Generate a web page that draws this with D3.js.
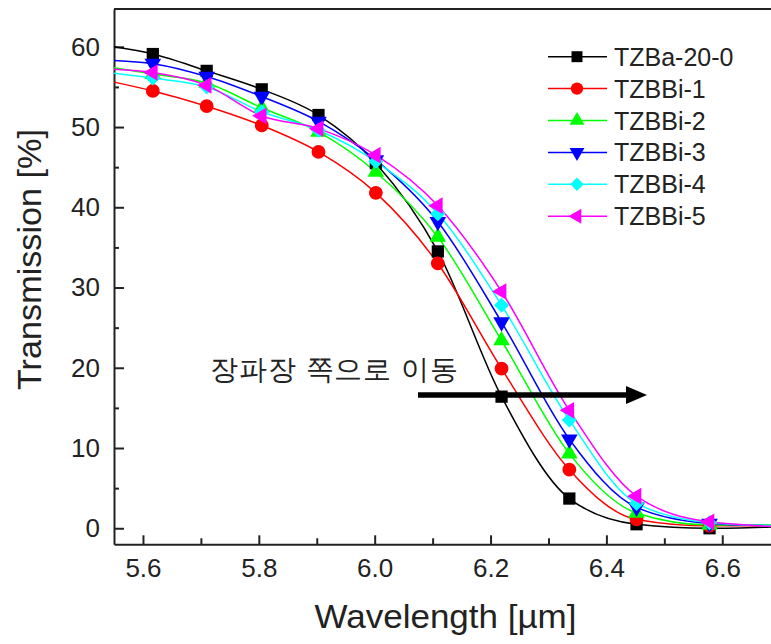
<!DOCTYPE html>
<html>
<head>
<meta charset="utf-8">
<script src="https://cdn.jsdelivr.net/npm/d3@7"></script>
<style>
  html, body { margin: 0; padding: 0; background: #fff; }
  svg { display: block; }
  text { font-family: "Liberation Sans", Arial, sans-serif; fill: #222; }
</style>
</head>
<body>
<svg id="chart" width="771" height="644"></svg>
<script>
// ---- data ----
const wavelengths = [5.617, 5.710, 5.805, 5.903, 6.002, 6.109, 6.219, 6.336, 6.452, 6.578];
const lineStartX = 5.55;
const lineEndX = 6.70;

const seriesNames = ["TZBa-20-0", "TZBBi-1", "TZBBi-2", "TZBBi-3", "TZBBi-4", "TZBBi-5"];
const valsTZBa20_0 = [59.1, 57.0, 54.7, 51.5, 45.5, 34.5, 16.4, 3.7, 0.5, 0.0];
const valsTZBBi1   = [54.5, 52.6, 50.2, 46.9, 41.8, 33.0, 19.9, 7.3, 1.1, 0.3];
const valsTZBBi2   = [56.6, 55.5, 52.4, 49.4, 44.4, 36.3, 23.4, 9.3, 1.9, 0.4];
const valsTZBBi3   = [57.9, 56.3, 53.8, 50.7, 45.9, 38.2, 25.7, 11.1, 2.6, 0.6];
const valsTZBBi4   = [56.1, 55.0, 51.9, 49.6, 45.7, 39.2, 27.8, 13.5, 3.1, 0.7];
const valsTZBBi5   = [56.8, 55.2, 51.4, 49.8, 46.5, 40.2, 29.5, 14.7, 4.0, 0.8];
const startVals = [60.0, 55.6, 57.4, 58.3, 56.7, 57.2];
const endVals   = [0.2, 0.3, 0.4, 0.3, 0.3, 0.2];

const xMajorTicks = [5.6, 5.8, 6.0, 6.2, 6.4, 6.6];
const xTickLabels = ["5.6", "5.8", "6.0", "6.2", "6.4", "6.6"];
const xMinorTicks = [5.7, 5.9, 6.1, 6.3, 6.5, 6.7];
const yMajorTicks = [0, 10, 20, 30, 40, 50, 60];
const yMinorTicks = [5, 15, 25, 35, 45, 55];

const xTitle = "Wavelength [\u00B5m]";
const yTitle = "Transmission [%]";
const annotation = "장파장 쪽으로 이동";

// ---- styles ----
const colors = ["#000000", "#ff0000", "#00ff00", "#0000ff", "#00ffff", "#ff00ff"];
const shapes = ["square", "circle", "triUp", "triDown", "diamond", "triLeft"];
const allVals = [valsTZBa20_0, valsTZBBi1, valsTZBBi2, valsTZBBi3, valsTZBBi4, valsTZBBi5];

const svg = d3.select("#chart");
const x = d3.scaleLinear().domain([5.55, 6.70]).range([114, 780.2]);
const y = d3.scaleLinear().domain([-2, 64.7]).range([544.3, 9.1]);

function symbolPath(shape, size) {
  switch (shape) {
    case "square": return {d: d3.symbol(d3.symbolSquare, size)(), rot: 0};
    case "circle": return {d: d3.symbol(d3.symbolCircle, size)(), rot: 0};
    case "triUp": return {d: d3.symbol(d3.symbolTriangle, size * 0.8)(), rot: 0};
    case "triDown": return {d: d3.symbol(d3.symbolTriangle, size * 0.8)(), rot: 180};
    case "diamond": return {d: d3.symbol(d3.symbolSquare, size * 0.75)(), rot: 45};
    case "triLeft": return {d: d3.symbol(d3.symbolTriangle, size * 0.8)(), rot: -90};
  }
}

// ---- axes ----
const axisColor = "#222";
svg.append("line").attr("x1", x(5.55)).attr("x2", x(6.70))
  .attr("y1", y(64.7)).attr("y2", y(64.7))
  .attr("stroke", axisColor).attr("stroke-width", 2);

svg.append("g").attr("transform", `translate(${x(5.55)},0)`)
  .call(d3.axisLeft(y).tickValues(yMajorTicks).tickFormat(d3.format("d"))
    .tickSizeInner(-10).tickSizeOuter(0).tickPadding(14));
svg.append("g").attr("transform", `translate(${x(5.55)},0)`)
  .call(d3.axisLeft(y).tickValues(yMinorTicks).tickFormat("")
    .tickSizeInner(-5).tickSizeOuter(0))
  .select(".domain").remove();

svg.append("g").attr("transform", `translate(0,${y(-2)})`)
  .call(d3.axisBottom(x).tickValues(xMajorTicks).tickFormat((d, i) => xTickLabels[i])
    .tickSizeInner(-9).tickSizeOuter(0).tickPadding(14));
svg.append("g").attr("transform", `translate(0,${y(-2)})`)
  .call(d3.axisBottom(x).tickValues(xMinorTicks).tickFormat("")
    .tickSizeInner(-6).tickSizeOuter(0))
  .select(".domain").remove();

svg.selectAll(".domain").attr("stroke", axisColor).attr("stroke-width", 2);
svg.selectAll(".tick line").attr("stroke", axisColor).attr("stroke-width", 2);
svg.selectAll(".tick text").attr("font-size", 26)
  .attr("font-family", "'Liberation Sans', Arial, sans-serif").attr("fill", "#222");

// titles
svg.append("text").attr("x", 445.5).attr("y", 628)
  .attr("text-anchor", "middle").attr("font-size", 33)
  .attr("textLength", 262).attr("lengthAdjust", "spacingAndGlyphs")
  .text(xTitle);
svg.append("text").attr("transform", "translate(41,259.5) rotate(-90)")
  .attr("text-anchor", "middle").attr("font-size", 33)
  .attr("textLength", 261).attr("lengthAdjust", "spacingAndGlyphs")
  .text(yTitle);

// ---- series ----
const plot = svg.append("g");
const line = d3.line().x(d => x(d[0])).y(d => y(d[1])).curve(d3.curveMonotoneX);

seriesNames.forEach((name, i) => {
  const pts = [[lineStartX, startVals[i]]]
    .concat(wavelengths.map((w, j) => [w, allVals[i][j]]))
    .concat([[lineEndX, endVals[i]]]);
  plot.append("path").datum(pts)
    .attr("d", line).attr("fill", "none")
    .attr("stroke", colors[i]).attr("stroke-width", 1.5);
});
seriesNames.forEach((name, i) => {
  const sp = symbolPath(shapes[i], 150);
  plot.selectAll(null).data(wavelengths.map((w, j) => [w, allVals[i][j]]))
    .join("path")
    .attr("d", sp.d)
    .attr("transform", d => `translate(${x(d[0])},${y(d[1])}) rotate(${sp.rot})`)
    .attr("fill", colors[i]);
});

// ---- annotation ----
svg.append("text").attr("x", 210).attr("y", 379)
  .attr("font-family", "'Noto Sans CJK KR', sans-serif")
  .attr("font-size", 28).attr("fill", "#222")
  .attr("textLength", 248).attr("lengthAdjust", "spacing")
  .text(annotation);

svg.append("line").attr("x1", 418).attr("x2", 628)
  .attr("y1", 395).attr("y2", 395)
  .attr("stroke", "#000").attr("stroke-width", 5.5);
svg.append("path").attr("d", "M626,386 L647,395 L626,404 Z").attr("fill", "#000");

// ---- legend ----
const legend = svg.append("g");
seriesNames.forEach((name, i) => {
  const cy = 56.7 + i * 31.9;
  legend.append("line").attr("x1", 548).attr("x2", 607)
    .attr("y1", cy).attr("y2", cy)
    .attr("stroke", colors[i]).attr("stroke-width", 1.5);
  const sp = symbolPath(shapes[i], 120);
  legend.append("path").attr("d", sp.d)
    .attr("transform", `translate(577,${cy}) rotate(${sp.rot})`)
    .attr("fill", colors[i]);
  legend.append("text").attr("x", 614).attr("y", cy + 9)
    .attr("font-size", 25).text(name);
});
</script>
</body>
</html>
